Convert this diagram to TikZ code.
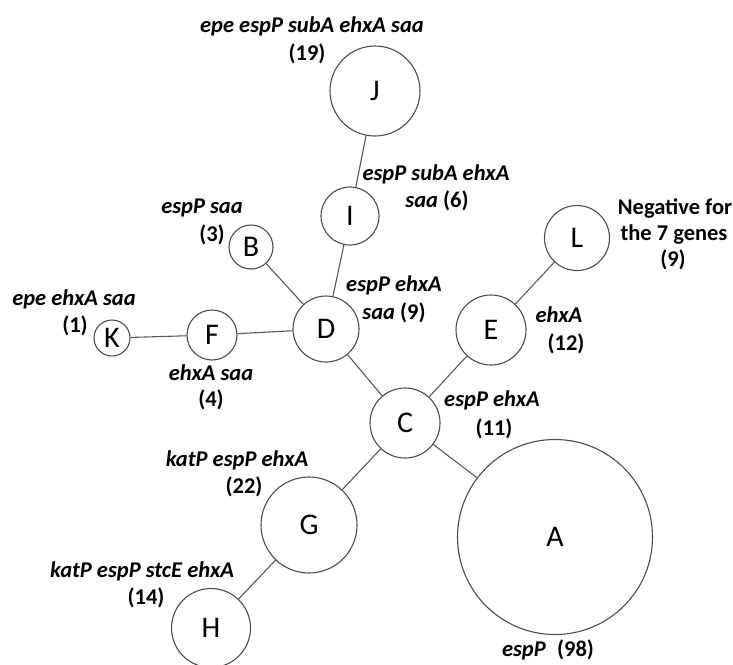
\documentclass[tikz,border=0pt]{standalone}
\usepackage{fontspec}
\setmainfont{Carlito}
\begin{document}
\begin{tikzpicture}[x=1pt,y=-1pt,
  hap/.style={circle,draw=black!70,line width=1.1pt,inner sep=0pt,font=\fontsize{30}{30}\selectfont},
  lbl/.style={font=\fontsize{22.5}{27}\selectfont\bfseries, inner sep=0pt, anchor=center},
  link/.style={draw=black!65,line width=1.1pt}]
\useasboundingbox (0,0) rectangle (733,664);
% haplotype circles
\node[hap,minimum size=90pt] (J) at (375,91) {J};
\node[hap,minimum size=58pt] (I) at (350,216) {I};
\node[hap,minimum size=44pt] (B) at (251,247) {B};
\node[hap,minimum size=66pt] (D) at (326,329) {D};
\node[hap,minimum size=50pt] (F) at (212,335) {F};
\node[hap,minimum size=36pt] (K) at (112,338) {K};
\node[hap,minimum size=70pt] (E) at (491,330) {E};
\node[hap,minimum size=65pt] (L) at (577,238) {L};
\node[hap,minimum size=70pt] (C) at (405,423) {C};
\node[hap,minimum size=195pt] (A) at (555,537) {A};
\node[hap,minimum size=96pt] (G) at (309,525) {G};
\node[hap,minimum size=79pt] (H) at (211,628) {H};
% connectors
\draw[link] (J) -- (I);
\draw[link] (I) -- (D);
\draw[link] (B) -- (D);
\draw[link] (F) -- (D);
\draw[link] (K) -- (F);
\draw[link] (D) -- (C);
\draw[link] (E) -- (C);
\draw[link] (L) -- (E);
\draw[link] (C) -- (A);
\draw[link] (C) -- (G);
\draw[link] (G) -- (H);
% labels
\node[lbl] (tJ1) at (312,26) {\itshape epe espP subA ehxA saa};
\node[lbl] (tJ2) at (307,54) {(19)};
\node[lbl] (tI1) at (436,174) {\itshape espP subA ehxA};
\node[lbl] (tI2) at (437,201) {{\itshape saa} (6)};
\node[lbl] (tB1) at (202,208) {\itshape espP saa};
\node[lbl] (tB2) at (212,235) {(3)};
\node[lbl] (tK1) at (74,299) {\itshape epe ehxA saa};
\node[lbl] (tK2) at (75,326) {(1)};
\node[lbl] (tD1) at (394,285) {\itshape espP ehxA};
\node[lbl] (tD2) at (394,313) {{\itshape saa} (9)};
\node[lbl] (tF1) at (211,373) {\itshape ehxA saa};
\node[lbl] (tF2) at (211,400) {(4)};
\node[lbl] (tL1) at (675,208) {Negative for};
\node[lbl] (tL2) at (674,235) {the 7 genes};
\node[lbl] (tL3) at (673,260) {(9)};
\node[lbl] (tE1) at (559,315) {\itshape ehxA};
\node[lbl] (tE2) at (566,344) {(12)};
\node[lbl] (tC1) at (492,400) {\itshape espP ehxA};
\node[lbl] (tC2) at (494,429) {(11)};
\node[lbl] (tG1) at (237,460) {\itshape katP espP ehxA};
\node[lbl] (tG2) at (244,487) {(22)};
\node[lbl] (tH1) at (142,571) {\itshape katP espP stcE ehxA};
\node[lbl] (tH2) at (146,598) {(14)};
\node[lbl] (tA1) at (548,650) {{\itshape espP}\enspace(98)};
\end{tikzpicture}
\end{document}
